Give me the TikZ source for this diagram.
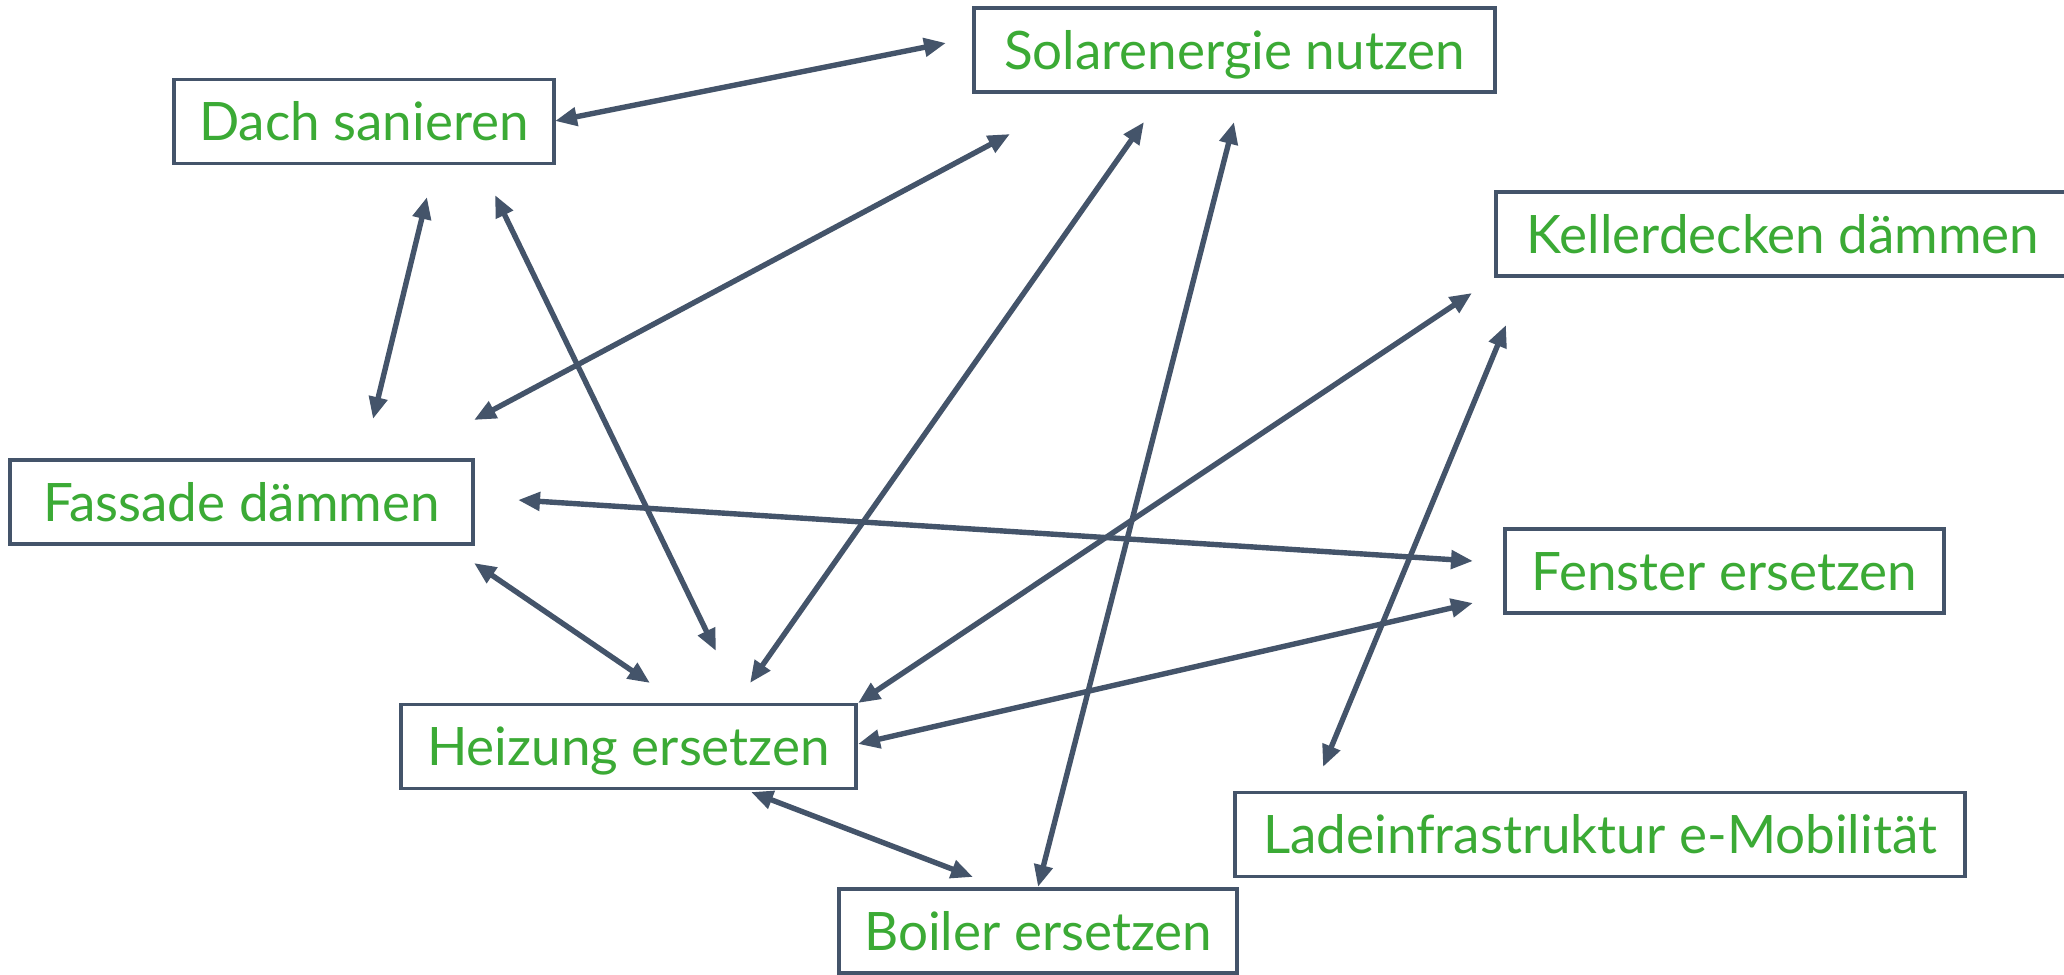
\documentclass[tikz,border=0pt]{standalone}
\usepackage{fontspec}
\setmainfont{Lato}
\usetikzlibrary{arrows.meta}
\definecolor{slate}{HTML}{44546A}
\definecolor{leaf}{HTML}{3BAA35}
\begin{document}
\begin{tikzpicture}[x=0.5pt,y=-0.5pt,
  box/.style={draw=slate, line width=1.8pt, text=leaf, fill=white,
    font=\fontsize{26.5}{30}\selectfont, inner sep=0pt,
    minimum height=42pt, text height=19pt, text depth=0pt},
  link/.style={draw=slate, line width=2.7pt,
    {Triangle[length=11pt,width=9pt]}-{Triangle[length=11pt,width=9pt]}}]
\clip (0,0) rectangle (2064,974);
\fill[white] (0,0) rectangle (2064,974);
% boxes
\node[box, minimum width=260.5pt] (solar)   at (1234.5,50)  {Solarenergie nutzen};
\node[box, minimum width=190pt]   (dach)    at (364,121.5)  {Dach sanieren};
\node[box, minimum width=287pt]   (keller)  at (1783,234)   {Kellerdecken dämmen};
\node[box, minimum width=231.5pt] (fassade) at (241.5,502)  {Fassade dämmen};
\node[box, minimum width=219.5pt] (fenster) at (1724.5,571) {Fenster ersetzen};
\node[box, minimum width=227.5pt] (heizung) at (628.5,746.5){Heizung ersetzen};
\node[box, minimum width=365pt]   (lade)    at (1600,834.5) {Ladeinfrastruktur e-Mobilität};
\node[box, minimum width=199pt]   (boiler)  at (1038,931)   {Boiler ersetzen};
% connector end points
\coordinate (ds1) at (555,121);  \coordinate (ds2) at (946,43);
\coordinate (df1) at (427,197);  \coordinate (df2) at (373,419);
\coordinate (dh1) at (495,195);  \coordinate (dh2) at (716,651);
\coordinate (sf1) at (1010,134); \coordinate (sf2) at (474,420);
\coordinate (sh1) at (1144,122); \coordinate (sh2) at (750,683);
\coordinate (sb1) at (1234,122); \coordinate (sb2) at (1038,887);
\coordinate (kh1) at (1472,293); \coordinate (kh2) at (858,703);
\coordinate (kl1) at (1506,325); \coordinate (kl2) at (1323,767);
\coordinate (ff1) at (518,500);  \coordinate (ff2) at (1473,561);
\coordinate (fh1) at (474,563);  \coordinate (fh2) at (650,683);
\coordinate (nh1) at (1473,603); \coordinate (nh2) at (858,744);
\coordinate (hb1) at (751,792);  \coordinate (hb2) at (973,877);
% connectors
\draw[link] (ds1) -- (ds2);
\draw[link] (df1) -- (df2);
\draw[link] (dh1) -- (dh2);
\draw[link] (sf1) -- (sf2);
\draw[link] (sh1) -- (sh2);
\draw[link] (sb1) -- (sb2);
\draw[link] (kh1) -- (kh2);
\draw[link] (kl1) -- (kl2);
\draw[link] (ff1) -- (ff2);
\draw[link] (fh1) -- (fh2);
\draw[link] (nh1) -- (nh2);
\draw[link] (hb1) -- (hb2);
\end{tikzpicture}
\end{document}
